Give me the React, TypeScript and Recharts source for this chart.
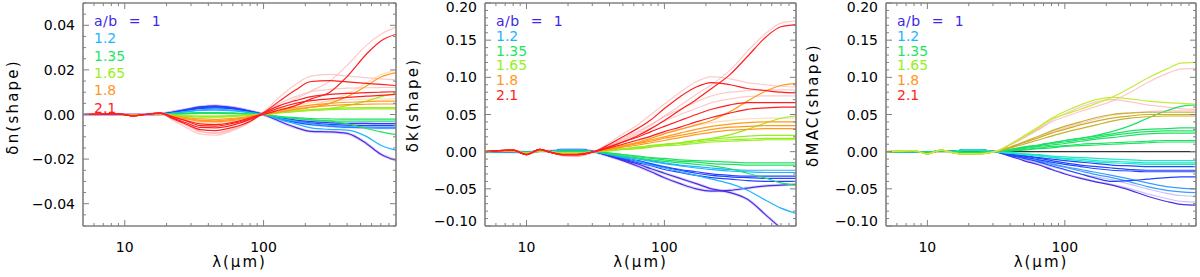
import { Line, LineChart, ReferenceLine, XAxis, YAxis } from 'recharts';

// wavelength grids (µm)
const lamN = [5, 9, 11.5, 14, 18, 22, 28, 35, 45, 60, 80, 100, 130, 170, 220, 300, 400, 550, 700, 900];
const lamK = [5, 8, 10, 12.5, 15, 18, 23, 31, 40, 50, 65, 80, 100, 130, 170, 220, 300, 400, 550, 700, 900];

// ---- δn(shape) ----
const dnRedPale = [
  [0, 0.0003, -0.0006, 0, 0.0006, -0.0015, -0.0045, -0.0075, -0.0085, -0.0068, -0.0032, 0.0005, 0.004, 0.007, 0.0105, 0.015, 0.022, 0.031, 0.036, 0.0392],
  [0, 0.0003, -0.0006, 0, 0.0006, -0.0025, -0.006, -0.0088, -0.0093, -0.0072, -0.0035, 0.0012, 0.0078, 0.0135, 0.0172, 0.018, 0.0172, 0.0165, 0.016, 0.0155],
  [0, 0.0003, -0.0006, 0, 0.0006, -0.002, -0.005, -0.0078, -0.0082, -0.0063, -0.003, 0.001, 0.005, 0.008, 0.0102, 0.0112, 0.0118, 0.012, 0.0121, 0.0122],
];
const dnRed = [
  [0, 0.0003, -0.0006, 0, 0.0006, -0.001, -0.003, -0.005, -0.0052, -0.004, -0.002, 0, 0.002, 0.004, 0.007, 0.01, 0.017, 0.027, 0.033, 0.036],
  [0, 0.0003, -0.0006, 0, 0.0006, -0.0018, -0.0045, -0.0068, -0.0072, -0.0058, -0.003, 0.0008, 0.006, 0.011, 0.0148, 0.0152, 0.0146, 0.014, 0.0135, 0.013],
  [0, 0.0003, -0.0006, 0, 0.0006, -0.0015, -0.0038, -0.0058, -0.006, -0.0048, -0.0022, 0.0008, 0.004, 0.0062, 0.008, 0.009, 0.0095, 0.0098, 0.01, 0.0102],
  [0, 0.0003, -0.0006, 0, 0.0006, -0.001, -0.0028, -0.0042, -0.0045, -0.0035, -0.0015, 0.0005, 0.003, 0.005, 0.0062, 0.007, 0.0077, 0.0082, 0.0086, 0.009],
];
const dnOrangePale = [
  [0, 0.0002, -0.0004, 0, 0.0004, -0.001, -0.0024, -0.0036, -0.0038, -0.003, -0.0014, 0, 0.0015, 0.0028, 0.0042, 0.0062, 0.0092, 0.014, 0.0178, 0.0198],
  [0, 0.0002, -0.0004, 0, 0.0004, -0.001, -0.0022, -0.0032, -0.0034, -0.0027, -0.0012, 0.0003, 0.0024, 0.004, 0.0052, 0.006, 0.0066, 0.0069, 0.007, 0.007],
];
const dnOrange = [
  [0, 0.0002, -0.0004, 0, 0.0004, -0.0008, -0.002, -0.003, -0.0032, -0.0026, -0.0012, 0, 0.0012, 0.0022, 0.0032, 0.005, 0.008, 0.0128, 0.0168, 0.0188],
  [0, 0.0002, -0.0004, 0, 0.0004, -0.0008, -0.0018, -0.0026, -0.0028, -0.0022, -0.001, 0.0002, 0.0018, 0.0032, 0.0042, 0.005, 0.0055, 0.0058, 0.006, 0.006],
  [0, 0.0001, -0.0003, 0, 0.0003, -0.0006, -0.0014, -0.002, -0.0022, -0.0017, -0.0008, 0.0001, 0.0012, 0.0024, 0.0033, 0.004, 0.0044, 0.0046, 0.0047, 0.0047],
];
const dnLime = [
  [0, 0.0001, -0.0002, 0, 0.0002, -0.0004, -0.0009, -0.0012, -0.0012, -0.0009, -0.0004, 0, 0.0008, 0.0014, 0.002, 0.0028, 0.004, 0.006, 0.008, 0.0095],
  [0, 0.0001, -0.0002, 0, 0.0002, -0.0003, -0.0006, -0.0008, -0.0008, -0.0006, -0.0003, 0, 0.0009, 0.0016, 0.0022, 0.0027, 0.003, 0.0031, 0.0031, 0.0031],
  [0, 0.0001, -0.0002, 0, 0.0002, -0.0002, -0.0005, -0.0007, -0.0007, -0.0005, -0.0002, 0, 0.0007, 0.0013, 0.0018, 0.0022, 0.0024, 0.0025, 0.0025, 0.0025],
];
const dnGreen = [
  [0, 0, 0, 0, 0, 0.0001, 0.0003, 0.0005, 0.0005, 0.0004, 0.0002, 0, -0.0008, -0.0014, -0.0018, -0.002, -0.0021, -0.0021, -0.0021, -0.0021],
  [0, 0, 0, 0, 0, 0.0002, 0.0005, 0.0007, 0.0007, 0.0005, 0.0002, 0, -0.001, -0.0018, -0.0024, -0.0028, -0.003, -0.003, -0.003, -0.003],
  [0, 0, 0, 0, 0, 0.0002, 0.0006, 0.0009, 0.0009, 0.0007, 0.0003, 0, -0.001, -0.0018, -0.0024, -0.003, -0.0042, -0.0062, -0.0078, -0.009],
];
const dnCyan = [
  [0, 0, 0, 0, 0.0001, 0.0006, 0.0014, 0.0021, 0.0024, 0.0019, 0.0009, 0, -0.0022, -0.0042, -0.006, -0.0067, -0.007, -0.0098, -0.0138, -0.016],
  [0, 0, 0, 0, 0.0001, 0.0005, 0.0012, 0.0018, 0.002, 0.0016, 0.0008, 0, -0.0016, -0.003, -0.0042, -0.005, -0.0055, -0.0058, -0.006, -0.006],
];
const dnBlue = [
  [0, 0, 0, 0, 0.0001, 0.0008, 0.0018, 0.0027, 0.003, 0.0025, 0.0012, 0, -0.0014, -0.0025, -0.0032, -0.0037, -0.004, -0.004, -0.0041, -0.0041],
  [0, 0, 0, 0, 0.0001, 0.0009, 0.002, 0.003, 0.0034, 0.0028, 0.0014, 0, -0.0017, -0.003, -0.0038, -0.0044, -0.0048, -0.005, -0.005, -0.005],
  [0, 0, 0, 0, 0.0002, 0.001, 0.0023, 0.0034, 0.0038, 0.0031, 0.0015, 0, -0.002, -0.0035, -0.0045, -0.0052, -0.0057, -0.0059, -0.006, -0.006],
];
const dnViolet = [
  [0, 0, 0, 0, 0.0002, 0.001, 0.0022, 0.0033, 0.0038, 0.003, 0.0014, 0, -0.003, -0.0058, -0.0076, -0.0078, -0.0085, -0.013, -0.0178, -0.0205],
];

// ---- δk(shape): short-wavelength wiggles (5–31 µm) + long-wavelength tails (40–900 µm) ----
const dkHeadRed = [0, 0.002, -0.004, 0.003, -0.001, -0.004, -0.004, 0];
const dkHeadPink = [0, 0.002, -0.004, 0.003, -0.001, -0.005, -0.006, 0];
const dkHeadOrange = [0, 0.0015, -0.003, 0.002, -0.001, -0.003, -0.003, 0];
const dkHeadLime = [0, 0.001, -0.002, 0.001, 0, -0.002, -0.002, 0];
const dkHeadGreen = [0, 0.0005, -0.001, 0.0005, 0, 0.0005, 0.0005, 0];
const dkHeadBlue = [0, 0, -0.001, 0.001, 0.0005, 0.0025, 0.0028, 0];

const dkRedPale = [
  [0.008, 0.016, 0.026, 0.036, 0.048, 0.062, 0.077, 0.09, 0.11, 0.135, 0.16, 0.173, 0.176],
  [0.012, 0.024, 0.037, 0.05, 0.064, 0.08, 0.094, 0.101, 0.098, 0.093, 0.09, 0.088, 0.087],
  [0.009, 0.018, 0.028, 0.037, 0.047, 0.057, 0.067, 0.075, 0.08, 0.082, 0.083, 0.083, 0.083],
  [0.007, 0.015, 0.024, 0.032, 0.041, 0.05, 0.058, 0.066, 0.071, 0.074, 0.075, 0.075, 0.075],
];
const dkRed = [
  [0.006, 0.013, 0.022, 0.031, 0.042, 0.056, 0.07, 0.085, 0.104, 0.128, 0.155, 0.168, 0.171],
  [0.01, 0.02, 0.032, 0.043, 0.058, 0.074, 0.087, 0.093, 0.09, 0.085, 0.082, 0.08, 0.079],
  [0.007, 0.013, 0.02, 0.027, 0.034, 0.042, 0.05, 0.057, 0.063, 0.066, 0.066, 0.066, 0.066],
  [0.005, 0.01, 0.016, 0.021, 0.027, 0.033, 0.04, 0.046, 0.052, 0.057, 0.059, 0.06, 0.06],
];
const dkOrangePale = [
  [0.005, 0.01, 0.015, 0.02, 0.025, 0.03, 0.035, 0.039, 0.042, 0.044, 0.045, 0.045, 0.045],
];
const dkOrange = [
  [0.004, 0.008, 0.013, 0.018, 0.024, 0.03, 0.036, 0.042, 0.054, 0.068, 0.082, 0.089, 0.092],
  [0.004, 0.008, 0.012, 0.016, 0.02, 0.025, 0.03, 0.034, 0.037, 0.039, 0.04, 0.04, 0.04],
  [0.003, 0.007, 0.011, 0.014, 0.018, 0.022, 0.026, 0.03, 0.033, 0.034, 0.035, 0.035, 0.035],
  [0.003, 0.006, 0.009, 0.012, 0.015, 0.019, 0.023, 0.026, 0.029, 0.03, 0.031, 0.031, 0.031],
];
const dkLime = [
  [0.002, 0.004, 0.006, 0.008, 0.01, 0.012, 0.015, 0.018, 0.023, 0.03, 0.039, 0.045, 0.048],
  [0.002, 0.004, 0.006, 0.008, 0.01, 0.012, 0.015, 0.017, 0.019, 0.021, 0.022, 0.022, 0.022],
  [0.0015, 0.003, 0.005, 0.007, 0.009, 0.011, 0.013, 0.015, 0.016, 0.017, 0.018, 0.018, 0.018],
  [0.001, 0.003, 0.004, 0.006, 0.008, 0.009, 0.011, 0.013, 0.014, 0.015, 0.016, 0.016, 0.016],
];
const dkGreen = [
  [-0.002, -0.004, -0.006, -0.008, -0.009, -0.011, -0.012, -0.013, -0.014, -0.015, -0.015, -0.015, -0.015],
  [-0.002, -0.004, -0.007, -0.009, -0.011, -0.013, -0.014, -0.016, -0.017, -0.018, -0.018, -0.018, -0.018],
  [-0.003, -0.006, -0.009, -0.011, -0.013, -0.015, -0.017, -0.019, -0.023, -0.029, -0.036, -0.042, -0.045],
];
const dkCyan = [
  [-0.003, -0.006, -0.009, -0.012, -0.015, -0.018, -0.02, -0.022, -0.024, -0.025, -0.025, -0.025, -0.025],
  [-0.003, -0.007, -0.01, -0.013, -0.016, -0.019, -0.022, -0.024, -0.026, -0.027, -0.028, -0.028, -0.028],
  [-0.004, -0.008, -0.013, -0.018, -0.022, -0.027, -0.032, -0.037, -0.043, -0.052, -0.066, -0.076, -0.083],
];
const dkBlue = [
  [-0.004, -0.008, -0.012, -0.016, -0.02, -0.024, -0.027, -0.03, -0.032, -0.033, -0.033, -0.033, -0.033],
  [-0.004, -0.009, -0.013, -0.017, -0.021, -0.025, -0.029, -0.032, -0.034, -0.035, -0.036, -0.036, -0.036],
  [-0.005, -0.01, -0.015, -0.019, -0.024, -0.028, -0.032, -0.035, -0.037, -0.039, -0.04, -0.04, -0.04],
];
const dkViolet = [
  [-0.006, -0.012, -0.02, -0.027, -0.035, -0.043, -0.05, -0.053, -0.052, -0.049, -0.046, -0.045, -0.044],
  [-0.006, -0.011, -0.017, -0.023, -0.029, -0.036, -0.043, -0.05, -0.055, -0.064, -0.086, -0.103, -0.12],
];

// ---- δMAC(shape) ----
const dmHeadPos = [0, 0.0015, -0.003, 0.002, -0.001, -0.003, -0.003, 0];
const dmHeadGreen = [0, 0.0005, -0.001, 0.001, 0, -0.001, -0.001, 0];
const dmHeadNeg = [0, 0, -0.001, 0.001, 0.0005, 0.002, 0.0025, 0];

const dmPink = [
  [0.009, 0.018, 0.03, 0.04, 0.047, 0.054, 0.061, 0.068, 0.08, 0.093, 0.105, 0.111, 0.112],
  [0.009, 0.019, 0.031, 0.042, 0.051, 0.06, 0.067, 0.07, 0.067, 0.063, 0.06, 0.058, 0.057],
  [0.006, 0.012, 0.019, 0.026, 0.032, 0.038, 0.044, 0.049, 0.052, 0.054, 0.055, 0.055, 0.055],
];
const dmYellow = [
  [0.01, 0.02, 0.033, 0.044, 0.05, 0.057, 0.065, 0.073, 0.086, 0.099, 0.111, 0.119, 0.12],
  [0.01, 0.021, 0.034, 0.045, 0.054, 0.063, 0.07, 0.073, 0.071, 0.068, 0.066, 0.065, 0.064],
];
const dmOlive = [
  [0.006, 0.013, 0.021, 0.028, 0.034, 0.04, 0.046, 0.05, 0.052, 0.053, 0.053, 0.053, 0.053],
  [0.006, 0.012, 0.019, 0.025, 0.03, 0.036, 0.041, 0.045, 0.048, 0.05, 0.05, 0.05, 0.05],
  [0.005, 0.01, 0.016, 0.021, 0.026, 0.031, 0.036, 0.041, 0.045, 0.047, 0.048, 0.048, 0.048],
];
const dmGreen = [
  [0.003, 0.006, 0.009, 0.012, 0.015, 0.018, 0.022, 0.027, 0.035, 0.045, 0.055, 0.061, 0.063],
  [0.003, 0.006, 0.009, 0.012, 0.015, 0.018, 0.021, 0.024, 0.028, 0.03, 0.031, 0.032, 0.032],
  [0.002, 0.005, 0.008, 0.011, 0.013, 0.016, 0.019, 0.022, 0.025, 0.027, 0.028, 0.028, 0.028],
  [0.002, 0.004, 0.007, 0.009, 0.011, 0.014, 0.017, 0.019, 0.022, 0.024, 0.025, 0.025, 0.025],
  [0.001, 0.003, 0.005, 0.007, 0.008, 0.01, 0.011, 0.012, 0.013, 0.014, 0.015, 0.015, 0.015],
  [0.001, 0.002, 0.004, 0.005, 0.007, 0.008, 0.009, 0.01, 0.011, 0.012, 0.013, 0.013, 0.013],
];
const dmTeal = [
  [-0.001, -0.003, -0.004, -0.006, -0.007, -0.008, -0.009, -0.01, -0.011, -0.012, -0.012, -0.012, -0.012],
  [-0.002, -0.003, -0.005, -0.007, -0.009, -0.01, -0.012, -0.013, -0.014, -0.015, -0.015, -0.015, -0.015],
  [-0.002, -0.004, -0.006, -0.008, -0.01, -0.012, -0.014, -0.015, -0.016, -0.017, -0.017, -0.017, -0.017],
];
const dmBlue = [
  [-0.003, -0.005, -0.008, -0.01, -0.012, -0.014, -0.016, -0.018, -0.019, -0.02, -0.02, -0.02, -0.02],
  [-0.003, -0.006, -0.009, -0.012, -0.015, -0.018, -0.02, -0.022, -0.024, -0.025, -0.025, -0.025, -0.025],
  [-0.004, -0.007, -0.011, -0.014, -0.017, -0.02, -0.023, -0.025, -0.026, -0.027, -0.027, -0.027, -0.027],
  [-0.005, -0.009, -0.014, -0.019, -0.024, -0.03, -0.036, -0.04, -0.039, -0.037, -0.035, -0.034, -0.034],
];
const dmSky = [
  [-0.004, -0.008, -0.012, -0.016, -0.02, -0.024, -0.028, -0.032, -0.037, -0.042, -0.047, -0.049, -0.05],
  [-0.004, -0.008, -0.013, -0.017, -0.021, -0.026, -0.031, -0.035, -0.041, -0.047, -0.052, -0.054, -0.055],
];
const dmLavender = [
  [-0.006, -0.011, -0.017, -0.023, -0.029, -0.035, -0.04, -0.044, -0.05, -0.057, -0.063, -0.067, -0.068],
  [-0.005, -0.01, -0.015, -0.02, -0.025, -0.03, -0.034, -0.038, -0.044, -0.05, -0.056, -0.059, -0.06],
];
const dmViolet = [
  [-0.006, -0.012, -0.018, -0.024, -0.03, -0.036, -0.041, -0.045, -0.052, -0.06, -0.067, -0.071, -0.072],
];

// axis ticks and labels
const xTicks = [6, 7, 8, 9, 10, 20, 30, 40, 50, 60, 70, 80, 90, 100, 200, 300, 400, 500, 600, 700, 800, 900];
const xMajor = [10, 100];
const nMajor = [-0.04, -0.02, 0, 0.02, 0.04];
const kMajor = [-0.1, -0.05, 0, 0.05, 0.1, 0.15, 0.2];
const legendLabels = ['a/b = 1', '1.2', '1.35', '1.65', '1.8', '2.1'];
const legendColors = ['#3c28e6', '#1eb4ff', '#1ee664', '#96f01e', '#ff961e', '#ff1e1e'];

const VIOLET = '#4a2ee0';
const BLUE = '#2244ff';
const CYAN = '#1eb4ff';
const GREEN = '#1ee064';
const LIME = '#96ee1e';
const ORANGE = '#ff9a1e';
const RED = '#ff1e1e';
const PINK = '#ff9a9a';
const LAVENDER = '#a898ff';
const TEAL = '#1ee6c8';
const SKY = '#3c9cff';
const OLIVE = '#c8b02c';
const YELLOW = '#c4ec3c';
const FRAME = '#808080';
const FONT = '"DejaVu Sans", Verdana, sans-serif';

const W = 400;
const H = 277;
const PT = 3;
const PB = 226;
const PR = 396;

type Curve = { values: number[]; color: string; opacity: number; width: number };

const curves = (rows: number[][], color: string, opacity = 1, width = 1.2, head?: number[]): Curve[] =>
  rows.map((r) => ({ values: head ? [...head, ...r] : r, color, opacity, width }));

const nCurves: Curve[] = [
  ...curves(dnViolet, LAVENDER, 0.45, 3),
  ...curves(dnBlue, LAVENDER, 0.35, 3),
  ...curves(dnRedPale, PINK, 0.55),
  ...curves(dnOrangePale, '#ffc890', 0.6),
  ...curves(dnViolet, VIOLET),
  ...curves(dnBlue, BLUE),
  ...curves(dnCyan, CYAN),
  ...curves(dnGreen, GREEN),
  ...curves(dnLime, LIME),
  ...curves(dnOrange, ORANGE),
  ...curves(dnRed, RED),
];

const kCurves: Curve[] = [
  ...curves(dkViolet, LAVENDER, 0.4, 3, dkHeadBlue),
  ...curves(dkRedPale, PINK, 0.5, 1.2, dkHeadPink),
  ...curves(dkOrangePale, '#ffc890', 0.6, 1.2, dkHeadOrange),
  ...curves(dkViolet, VIOLET, 1, 1.2, dkHeadBlue),
  ...curves(dkBlue, BLUE, 1, 1.2, dkHeadBlue),
  ...curves(dkCyan, CYAN, 1, 1.2, dkHeadBlue),
  ...curves(dkGreen, GREEN, 1, 1.2, dkHeadGreen),
  ...curves(dkLime, LIME, 1, 1.2, dkHeadLime),
  ...curves(dkOrange, ORANGE, 1, 1.2, dkHeadOrange),
  ...curves(dkRed, RED, 1, 1.2, dkHeadRed),
];

const mCurves: Curve[] = [
  ...curves(dmLavender, LAVENDER, 0.6, 1.2, dmHeadNeg),
  ...curves(dmPink, PINK, 0.55, 1.2, dmHeadPos),
  ...curves(dmViolet, VIOLET, 1, 1.2, dmHeadNeg),
  ...curves(dmSky, SKY, 1, 1.2, dmHeadNeg),
  ...curves(dmBlue, BLUE, 1, 1.2, dmHeadNeg),
  ...curves(dmTeal, TEAL, 1, 1.2, dmHeadNeg),
  ...curves(dmGreen, GREEN, 1, 1.2, dmHeadGreen),
  ...curves(dmOlive, OLIVE, 1, 1.2, dmHeadPos),
  ...curves(dmYellow, YELLOW, 1, 1.2, dmHeadPos),
];

const toRows = (lam: number[], cs: Curve[]) =>
  lam.map((l, i) => {
    const r: Record<string, number> = { lam: l };
    cs.forEach((c, j) => {
      r['s' + j] = c.values[i];
    });
    return r;
  });

const steps = (min: number, max: number, step: number) => {
  const out: number[] = [];
  for (let v = min; v <= max + 1e-9; v += step) out.push(Math.round(v * 1e5) / 1e5);
  return out;
};

const has = (list: number[], v: number) => list.some((m) => Math.abs(m - v) < 1e-9);
const fmt = (v: number) => (v < -1e-9 ? '\u2212' + Math.abs(v).toFixed(2) : Math.abs(v).toFixed(2));

interface PanelProps {
  left: number;
  plotLeft: number;
  lam: number[];
  cs: Curve[];
  yDomain: [number, number];
  yMajor: number[];
  yStep: number;
  yLabel: string;
  yLabelY: number;
  legendTop: number;
  legendStep: number;
  zeroLine?: boolean;
}

function Panel({ left, plotLeft, lam, cs, yDomain, yMajor, yStep, yLabel, yLabelY, legendTop, legendStep, zeroLine }: PanelProps) {
  const data = toRows(lam, cs);
  const yTicks = steps(yDomain[0], yDomain[1], yStep);
  const PL = plotLeft;

  const yLeftTick = (p: any) => {
    const v = p.payload.value;
    const y = p.y;
    const major = has(yMajor, v);
    const ty = Math.min(Math.max(y, 7), 221);
    return (
      <g>
        <line x1={PL} x2={PL + (major ? 6 : 3)} y1={y} y2={y} stroke={FRAME} strokeWidth={1} />
        {major && (
          <text x={PL - 8} y={ty} dy="0.36em" textAnchor="end" fontSize={14} fontFamily={FONT} fill="#000">
            {fmt(v)}
          </text>
        )}
      </g>
    );
  };
  const yRightTick = (p: any) => {
    const v = p.payload.value;
    const major = has(yMajor, v);
    return <line x1={PR} x2={PR - (major ? 6 : 3)} y1={p.y} y2={p.y} stroke={FRAME} strokeWidth={1} />;
  };
  const xBottomTick = (p: any) => {
    const v = p.payload.value;
    const major = has(xMajor, v);
    return (
      <g>
        <line x1={p.x} x2={p.x} y1={PB} y2={PB - (major ? 6 : 3)} stroke={FRAME} strokeWidth={1} />
        {major && (
          <text x={p.x} y={PB + 21} dy="0.36em" textAnchor="middle" fontSize={14} fontFamily={FONT} fill="#000">
            {v}
          </text>
        )}
      </g>
    );
  };
  const xTopTick = (p: any) => {
    const major = has(xMajor, p.payload.value);
    return <line x1={p.x} x2={p.x} y1={PT} y2={PT + (major ? 6 : 3)} stroke={FRAME} strokeWidth={1} />;
  };

  const axisLine = { stroke: FRAME, strokeWidth: 1.6 };

  return (
    <div style={{ position: 'absolute', left, top: 0, width: W, height: H }}>
      <LineChart width={W} height={H} data={data} margin={{ top: 0, right: 0, bottom: 0, left: 0 }}>
        <XAxis
          dataKey="lam"
          type="number"
          scale="log"
          domain={[5, 900]}
          allowDataOverflow
          ticks={xTicks}
          interval={0}
          height={H - PB}
          tickLine={false}
          axisLine={axisLine}
          tick={xBottomTick}
        />
        <XAxis
          xAxisId="top"
          orientation="top"
          dataKey="lam"
          type="number"
          scale="log"
          domain={[5, 900]}
          allowDataOverflow
          ticks={xTicks}
          interval={0}
          height={PT}
          tickLine={false}
          axisLine={axisLine}
          tick={xTopTick}
        />
        <YAxis
          type="number"
          domain={yDomain}
          allowDataOverflow
          ticks={yTicks}
          interval={0}
          width={PL}
          tickLine={false}
          axisLine={axisLine}
          tick={yLeftTick}
        />
        <YAxis
          yAxisId="right"
          orientation="right"
          type="number"
          domain={yDomain}
          allowDataOverflow
          ticks={yTicks}
          interval={0}
          width={W - PR}
          tickLine={false}
          axisLine={axisLine}
          tick={yRightTick}
        />
        {zeroLine && <ReferenceLine y={0} stroke="#333" strokeWidth={1.2} />}
        {cs.map((c, i) => (
          <Line
            key={i}
            dataKey={'s' + i}
            type="monotone"
            stroke={c.color}
            strokeOpacity={c.opacity}
            strokeWidth={c.width}
            dot={false}
            activeDot={false}
            isAnimationActive={false}
          />
        ))}
      </LineChart>
      {legendLabels.map((t, i) => (
        <div
          key={t}
          style={{
            position: 'absolute',
            left: PL + 11,
            top: legendTop + i * legendStep,
            transform: 'translateY(-50%)',
            color: legendColors[i],
            fontFamily: FONT,
            fontSize: 14,
            lineHeight: '16px',
            whiteSpace: 'pre',
            wordSpacing: i === 0 ? 6 : 0,
            letterSpacing: i === 0 ? 0.5 : 0,
          }}
        >
          {t}
        </div>
      ))}
      <div
        style={{
          position: 'absolute',
          left: 13,
          top: yLabelY,
          transform: 'translate(-50%, -50%) rotate(-90deg)',
          fontFamily: FONT,
          fontSize: 15,
          letterSpacing: 2.2,
          whiteSpace: 'nowrap',
          color: '#000',
        }}
      >
        {yLabel}
      </div>
      <div
        style={{
          position: 'absolute',
          left: (PL + PR) / 2,
          top: 262,
          transform: 'translate(-50%, -50%)',
          fontFamily: FONT,
          fontSize: 15,
          letterSpacing: 2,
          whiteSpace: 'nowrap',
          color: '#000',
        }}
      >
        λ(μm)
      </div>
    </div>
  );
}

export default function App() {
  return (
    <div style={{ position: 'absolute', left: 0, top: 0, width: 1200, height: 277, background: '#fff' }}>
      <Panel
        left={0}
        plotLeft={83}
        lam={lamN}
        cs={nCurves}
        yDomain={[-0.05, 0.05]}
        yMajor={nMajor}
        yStep={0.005}
        yLabel="δn(shape)"
        yLabelY={107}
        legendTop={21}
        legendStep={17.3}
      />
      <Panel
        left={400}
        plotLeft={85}
        lam={lamK}
        cs={kCurves}
        yDomain={[-0.1, 0.2]}
        yMajor={kMajor}
        yStep={0.01}
        yLabel="δk(shape)"
        yLabelY={105}
        legendTop={21}
        legendStep={14.8}
      />
      <Panel
        left={800}
        plotLeft={86}
        lam={lamK}
        cs={mCurves}
        yDomain={[-0.1, 0.2]}
        yMajor={kMajor}
        yStep={0.01}
        yLabel="δMAC(shape)"
        yLabelY={105}
        legendTop={21}
        legendStep={14.8}
        zeroLine
      />
    </div>
  );
}
